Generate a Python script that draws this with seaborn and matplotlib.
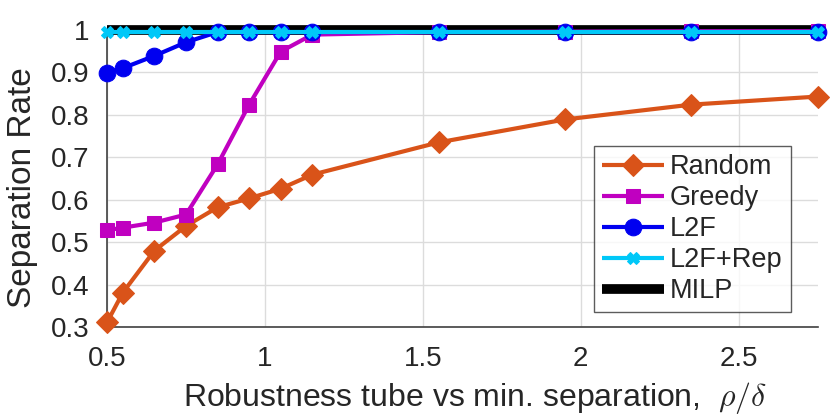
import matplotlib
matplotlib.use("Agg")
import matplotlib.pyplot as plt
import seaborn as sns
import pandas as pd

x_vals = [0.5, 0.55, 0.65, 0.75, 0.85, 0.95, 1.05, 1.15, 1.55, 1.95, 2.35, 2.75]
random_vals = [0.311, 0.381, 0.480, 0.538, 0.582, 0.603, 0.626, 0.659, 0.735, 0.789, 0.824, 0.843]
greedy_vals = [0.528, 0.534, 0.546, 0.565, 0.683, 0.824, 0.949, 0.989, 0.995, 0.996, 0.997, 0.997]
l2f_vals = [0.899, 0.910, 0.939, 0.971, 0.995, 0.995, 0.995, 0.995, 0.995, 0.995, 0.995, 0.995]
l2frep_vals = [0.995] * 12
milp_vals = [1.0] * 12
series_names = ["Random", "Greedy", "L2F", "L2F+Rep", "MILP"]
x_ticks = [0.5, 1, 1.5, 2, 2.5]
x_tick_labels = ["0.5", "1", "1.5", "2", "2.5"]
y_ticks = [0.3, 0.4, 0.5, 0.6, 0.7, 0.8, 0.9, 1.0]
y_tick_labels = ["0.3", "0.4", "0.5", "0.6", "0.7", "0.8", "0.9", "1"]

sns.set_style("white")
plt.rcParams['font.family'] = ["Liberation Sans", 'DejaVu Sans']
plt.rcParams['mathtext.fontset'] = 'cm'

rows = []
for name, vals in zip(series_names, [random_vals, greedy_vals, l2f_vals, l2frep_vals, milp_vals]):
    for xv, yv in zip(x_vals, vals):
        rows.append({"x": xv, "y": yv, "method": name})
df = pd.DataFrame(rows)

fig = plt.figure(figsize=(8.3, 4.16), dpi=100)
ax = fig.add_axes([0.129, 0.214, 0.856, 0.714])

styles = {
    "MILP": dict(color="black", lw=7, marker=None, ms=0, z=2),
    "Random": dict(color="#D95319", lw=3, marker="D", ms=11, z=3),
    "Greedy": dict(color="#C000C0", lw=3, marker="s", ms=10, z=4),
    "L2F": dict(color="#0000F0", lw=3, marker="o", ms=12, z=5),
    "L2F+Rep": dict(color="#00C8F8", lw=3, marker="X", ms=8, z=6),
}
handles = {}
for name in ["MILP", "Random", "Greedy", "L2F", "L2F+Rep"]:
    st = styles[name]
    sub = df[df["method"] == name]
    sns.lineplot(data=sub, x="x", y="y", ax=ax, color=st["color"], lw=st["lw"],
                 marker=st["marker"], markersize=st["ms"], markeredgecolor=st["color"],
                 zorder=st["z"], clip_on=False, legend=False)
    ln = ax.lines[-1]
    ln.set_solid_capstyle("butt")
    handles[name] = ln

ax.set_xlim(0.5, 2.75)
ax.set_ylim(0.3, 1.0)
ax.set_xticks(x_ticks)
ax.set_xticklabels(x_tick_labels)
ax.set_yticks(y_ticks)
ax.set_yticklabels(y_tick_labels)
ax.tick_params(axis="x", labelsize=20, direction="in", length=5, color="#404040",
               labelcolor="#262626", pad=14)
ax.tick_params(axis="y", labelsize=20, direction="in", length=5, color="#404040",
               labelcolor="#262626", pad=13)
ax.grid(True, color="#DCDCDC", lw=1)
for s in ["top", "right"]:
    ax.spines[s].set_visible(False)
for s in ["left", "bottom"]:
    ax.spines[s].set_color("#404040")
    ax.spines[s].set_linewidth(1.2)
ax.set_xlabel(r"Robustness tube vs min. separation,  $\rho/\delta$", fontsize=23,
              color="#262626")
ax.set_ylabel("Separation Rate", fontsize=24, color="#262626")
ax.xaxis.set_label_coords(0.518, -0.177)
ax.yaxis.set_label_coords(-0.097, 0.47)

leg = ax.legend([handles[n] for n in series_names], series_names, loc="lower right",
                bbox_to_anchor=(0.962, 0.05), fontsize=19.5, frameon=True, fancybox=False,
                edgecolor="#333333", handlelength=2.3, handletextpad=0.2, borderpad=0.3,
                labelspacing=0.18, borderaxespad=0.0)
leg.get_frame().set_linewidth(1.0)
leg.set_zorder(10)

fig.savefig("out.png", dpi=100)
